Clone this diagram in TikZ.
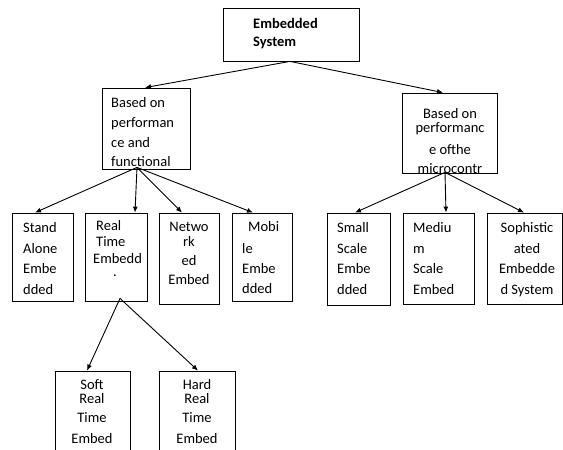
\documentclass[tikz,border=0pt]{standalone}
\usepackage{fontspec}
\setmainfont{Carlito}
\usetikzlibrary{arrows.meta}

\tikzset{
  box/.style={draw=black, line width=0.8pt, fill=white, inner sep=0pt},
  txt/.style={inner sep=0pt, font=\fontsize{14.5}{17}\selectfont, text=black},
  lft/.style={txt, anchor=base west},
  ctr/.style={txt, anchor=base},
  link/.style={line width=0.9pt, -{Latex[length=6pt,width=5pt]}}
}
% one line of text: \tline[style]{name}{x}{y}{text}
\newcommand\tline[5][lft]{\node[#1] (#2) at (#3,#4) {#5};}

\begin{document}
\begin{tikzpicture}[x=1pt, y=-1pt]
\clip (0,0) rectangle (563,450);
\fill[white] (0,0) rectangle (563,450);

% boxes
\node[box, minimum width=136pt, minimum height=53pt] (es) at (291,34.5) {};
\node[box, minimum width=88pt,  minimum height=81pt] (lb) at (146,128.5) {};
\node[box, minimum width=95pt,  minimum height=80pt] (rb) at (449.5,133) {};
\node[box, minimum width=61pt,  minimum height=88pt] (sa) at (42.5,257) {};
\node[box, minimum width=62pt,  minimum height=88pt] (rt) at (116,257) {};
\node[box, minimum width=60pt,  minimum height=91pt] (nw) at (189,258.5) {};
\node[box, minimum width=60pt,  minimum height=88pt] (mb) at (262,257) {};
\node[box, minimum width=63pt,  minimum height=92pt] (ss) at (358.5,259) {};
\node[box, minimum width=71pt,  minimum height=91pt] (ms) at (438.5,258.5) {};
\node[box, minimum width=75pt,  minimum height=91pt] (so) at (524.5,258.5) {};
\node[box, minimum width=75pt,  minimum height=89pt] (sr) at (92.5,415.5) {};
\node[box, minimum width=76pt,  minimum height=89pt] (hr) at (197,415.5) {};

% connectors
\draw[link] ([xshift=-1pt]es.south) -- ([xshift=-1pt]lb.north);
\draw[link] ([xshift=-1pt]es.south) -- ([xshift=-6.5pt]rb.north);

\draw[link] ([xshift=-9pt,yshift=2pt]lb.south) -- ([xshift=-7.5pt]sa.north);
\draw[link] ([xshift=-9pt,yshift=2pt]lb.south) -- ([xshift=19pt]rt.north);
\draw[link] ([xshift=-9pt,yshift=2pt]lb.south) -- ([xshift=-7pt]nw.north);
\draw[link] ([xshift=-9pt,yshift=2pt]lb.south) -- ([xshift=-9pt]mb.north);

\draw[link] ([xshift=-4.5pt,yshift=1pt]rb.south) -- ([xshift=-3.5pt]ss.north);
\draw[link] ([xshift=-4.5pt,yshift=1pt]rb.south) -- ([xshift=7.5pt]ms.north);
\draw[link] ([xshift=-4.5pt,yshift=1pt]rb.south) -- ([xshift=-0.5pt]so.north);

\draw[link] ([xshift=4pt,yshift=3pt]rt.south) -- ([xshift=-5.5pt]sr.north);
\draw[link] ([xshift=4pt,yshift=3pt]rt.south) -- ([xshift=1pt]hr.north);

% texts
\tline[lft, font=\fontsize{14.5}{17}\selectfont\bfseries]{es1}{253}{28}{Embedded}
\tline[lft, font=\fontsize{14.5}{17}\selectfont\bfseries]{es2}{253}{46}{System}

\tline{lb1}{111}{107}{Based on}
\tline{lb2}{111}{127}{performan}
\tline{lb3}{111}{147}{ce and}
\tline{lb4}{111}{166}{functional}

\tline[ctr]{rb1}{450}{118}{Based on}
\tline[ctr]{rb2}{450}{132}{performanc}
\tline[ctr]{rb3}{450}{154}{e ofthe}
\tline[ctr]{rb4}{450}{173}{microcontr}

\tline{sa1}{23}{232}{Stand}
\tline{sa2}{23}{253}{Alone}
\tline{sa3}{23}{273}{Embe}
\tline{sa4}{23}{294}{dded}

\tline{rt1}{96}{230}{Real}
\tline{rt2}{96}{246}{Time}
\tline{rt3}{93}{263}{Embedd}
\tline[ctr]{rt4}{115}{276}{.}

\tline[ctr]{nw1}{189}{231}{Netwo}
\tline[ctr]{nw2}{189}{246}{rk}
\tline[ctr]{nw3}{189}{265}{ed}
\tline[ctr]{nw4}{189}{284}{Embed}

\tline{mb1}{248}{231}{Mobi}
\tline{mb2}{242}{253}{le}
\tline{mb3}{242}{273}{Embe}
\tline{mb4}{242}{293}{dded}

\tline{ss1}{337}{232}{Small}
\tline{ss2}{337}{253}{Scale}
\tline{ss3}{337}{273}{Embe}
\tline{ss4}{337}{294}{dded}

\tline{ms1}{413}{232}{Mediu}
\tline{ms2}{413}{253}{m}
\tline{ms3}{413}{273}{Scale}
\tline{ms4}{413}{294}{Embed}

\tline[ctr]{so1}{527}{232}{Sophistic}
\tline[ctr]{so2}{527}{253}{ated}
\tline[ctr]{so3}{527}{273}{Embedde}
\tline[ctr]{so4}{527}{294}{d System}

\tline[ctr]{sr1}{92}{389}{Soft}
\tline[ctr]{sr2}{92}{403}{Real}
\tline[ctr]{sr3}{92}{422}{Time}
\tline[ctr]{sr4}{92}{443}{Embed}

\tline[ctr]{hr1}{197}{389}{Hard}
\tline[ctr]{hr2}{197}{403}{Real}
\tline[ctr]{hr3}{197}{422}{Time}
\tline[ctr]{hr4}{197}{443}{Embed}
\end{tikzpicture}
\end{document}
